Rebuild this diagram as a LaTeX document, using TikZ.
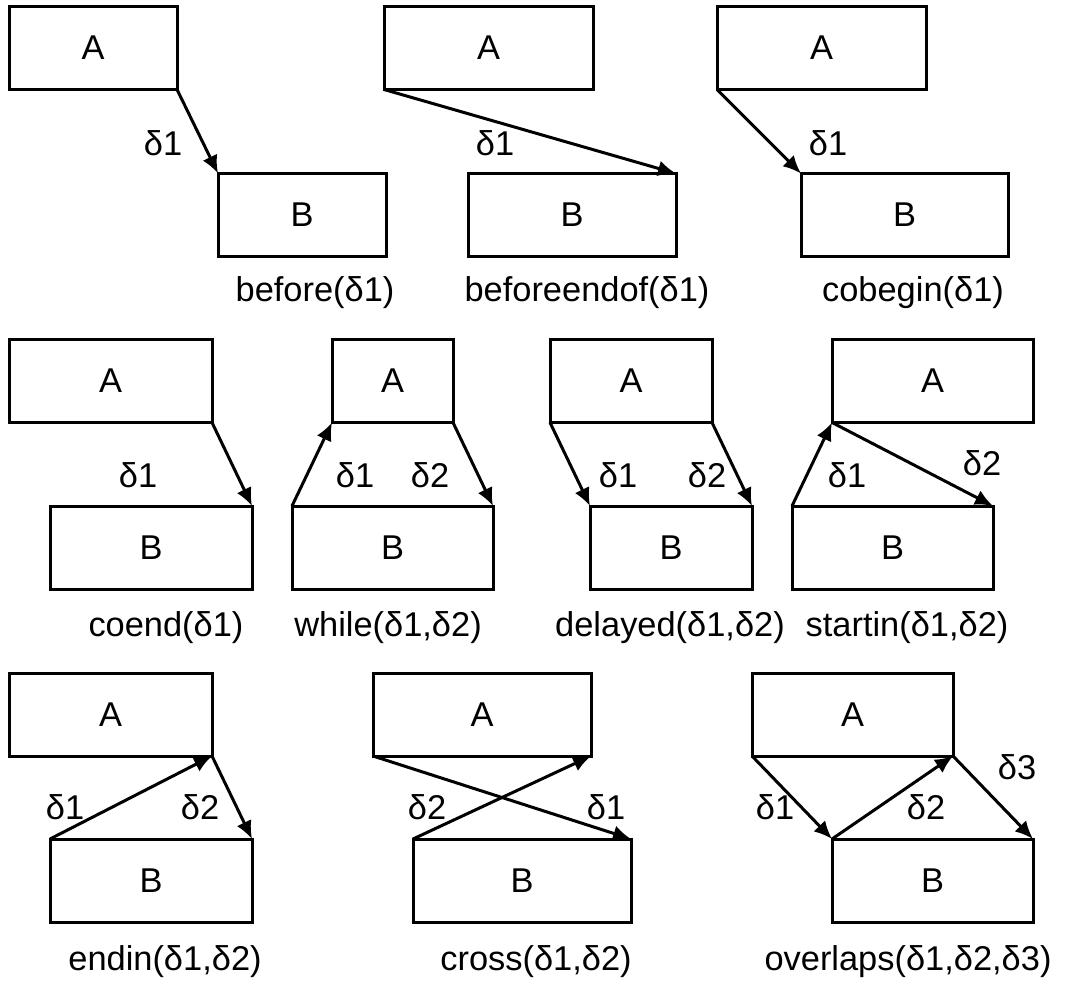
\documentclass[tikz,border=0pt]{standalone}
\usepackage{fontspec}
\setmainfont{Liberation Sans}
\usetikzlibrary{arrows.meta}
\tikzset{
    blk/.style={draw, inner sep=0pt, outer sep=0pt, minimum height=41.5pt},
    lbl/.style={inner sep=0pt},
}
\begin{document}
\begin{tikzpicture}[x=0.5pt, y=-0.5pt, line width=1.5pt,
    >={Latex[length=9pt,width=8pt]},
    every node/.append style={font=\fontsize{17.2}{20}\selectfont}]
    \useasboundingbox (0, 0) rectangle (1070, 984);

    % before
    \node [blk, minimum width=84pt] (A1) at (93, 48) {A};
    \node [blk, minimum width=84pt] (B1) at (302, 215) {B};
    \draw [->] (A1.south east) -- (B1.north west);
    \node [lbl] (d1a) at (163, 143) {δ1};
    \node [lbl] (c1) at (315, 293) {before(δ1)};

    % beforeendof
    \node [blk, minimum width=104.5pt] (A2) at (488.5, 48) {A};
    \node [blk, minimum width=104pt] (B2) at (572, 215) {B};
    \draw [->] (A2.south west) -- (B2.north east);
    \node [lbl] (d1b) at (495, 143) {δ1};
    \node [lbl] (c2) at (587, 293) {beforeendof(δ1)};

    % cobegin
    \node [blk, minimum width=104.5pt] (A3) at (821.5, 48) {A};
    \node [blk, minimum width=103.5pt] (B3) at (904.5, 215) {B};
    \draw [->] (A3.south west) -- (B3.north west);
    \node [lbl] (d1c) at (828, 143) {δ1};
    \node [lbl] (c3) at (913, 293) {cobegin(δ1)};

    % coend
    \node [blk, minimum width=101.5pt] (A4) at (110.5, 381) {A};
    \node [blk, minimum width=101pt] (B4) at (151, 547.5) {B};
    \draw [->] (A4.south east) -- (B4.north east);
    \node [lbl] (d1d) at (138, 475) {δ1};
    \node [lbl] (c4) at (166, 628) {coend(δ1)};

    % while
    \node [blk, minimum width=60.5pt] (A5) at (392.5, 381) {A};
    \node [blk, minimum width=100.5pt] (B5) at (392.5, 547.5) {B};
    \draw [->] (B5.north west) -- (A5.south west);
    \draw [->] (A5.south east) -- (B5.north east);
    \node [lbl] (d1e) at (355, 475) {δ1};
    \node [lbl] (d2e) at (430, 475) {δ2};
    \node [lbl] (c5) at (388, 628) {while(δ1,δ2)};

    % delayed
    \node [blk, minimum width=81pt] (A6) at (631, 381) {A};
    \node [blk, minimum width=81pt] (B6) at (671, 547.5) {B};
    \draw [->] (A6.south west) -- (B6.north west);
    \draw [->] (A6.south east) -- (B6.north east);
    \node [lbl] (d1f) at (618, 475) {δ1};
    \node [lbl] (d2f) at (707, 475) {δ2};
    \node [lbl] (c6) at (670, 628) {delayed(δ1,δ2)};

    % startin
    \node [blk, minimum width=100.5pt] (A7) at (932.5, 381) {A};
    \node [blk, minimum width=100.5pt] (B7) at (892.5, 547.5) {B};
    \draw [->] (B7.north west) -- (A7.south west);
    \draw [->] (A7.south west) -- (B7.north east);
    \node [lbl] (d1g) at (847, 475) {δ1};
    \node [lbl] (d2g) at (982, 463) {δ2};
    \node [lbl] (c7) at (907, 628) {startin(δ1,δ2)};

    % endin
    \node [blk, minimum width=101.5pt] (A8) at (110.5, 714.5) {A};
    \node [blk, minimum width=101pt] (B8) at (151, 880.5) {B};
    \draw [->] (B8.north west) -- (A8.south east);
    \draw [->] (A8.south east) -- (B8.north east);
    \node [lbl] (d1h) at (65, 807) {δ1};
    \node [lbl] (d2h) at (200, 807) {δ2};
    \node [lbl] (c8) at (165, 962) {endin(δ1,δ2)};

    % cross
    \node [blk, minimum width=109pt] (A9) at (482, 714.5) {A};
    \node [blk, minimum width=109pt] (B9) at (522, 880.5) {B};
    \draw [->] (A9.south west) -- (B9.north east);
    \draw [->] (B9.north west) -- (A9.south east);
    \node [lbl] (d2i) at (427, 807) {δ2};
    \node [lbl] (d1i) at (606, 807) {δ1};
    \node [lbl] (c9) at (536, 962) {cross(δ1,δ2)};

    % overlaps
    \node [blk, minimum width=100.5pt] (A10) at (852.5, 714.5) {A};
    \node [blk, minimum width=100.5pt] (B10) at (932.5, 880.5) {B};
    \draw [->] (A10.south west) -- (B10.north west);
    \draw [->] (B10.north west) -- (A10.south east);
    \draw [->] (A10.south east) -- (B10.north east);
    \node [lbl] (d1j) at (775, 807) {δ1};
    \node [lbl] (d2j) at (926, 807) {δ2};
    \node [lbl] (d3j) at (1017, 767) {δ3};
    \node [lbl] (c10) at (908, 962) {overlaps(δ1,δ2,δ3)};
\end{tikzpicture}
\end{document}
